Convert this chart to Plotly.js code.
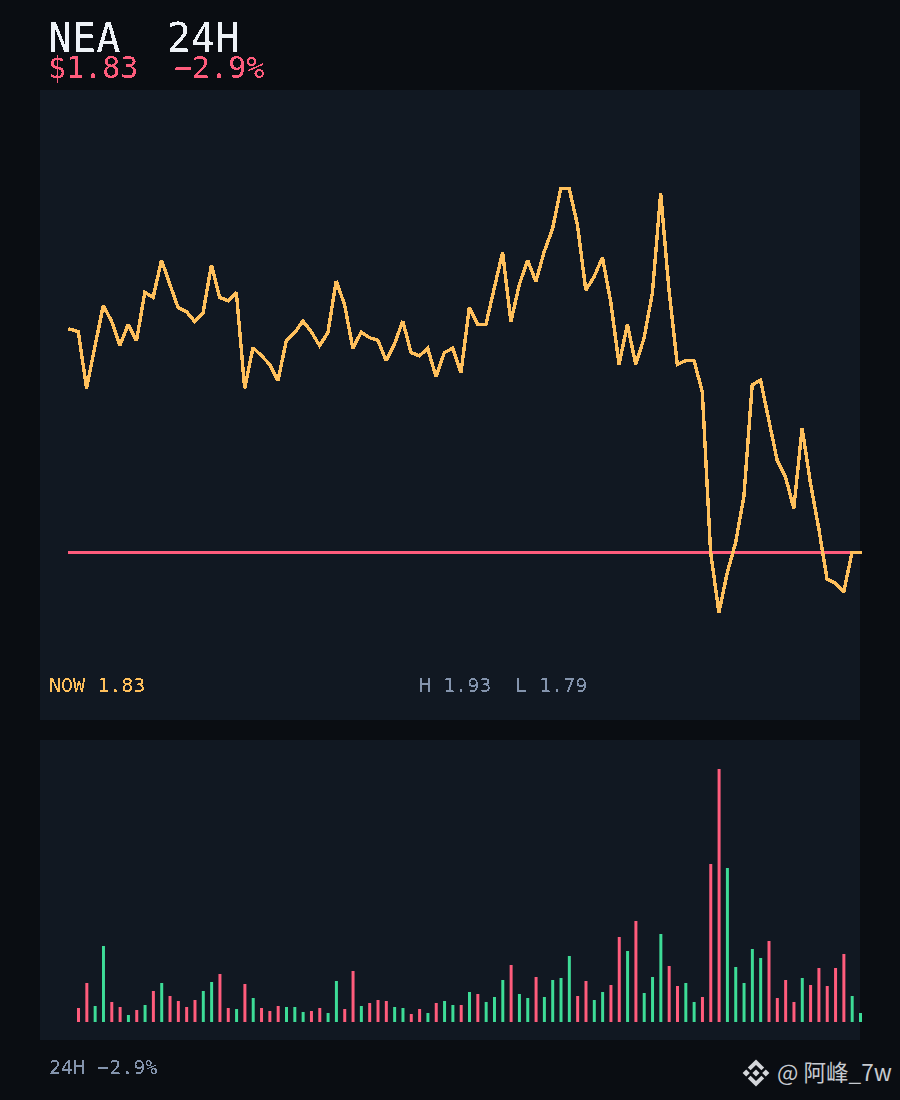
<!DOCTYPE html>
<html>
<head>
<meta charset="utf-8">
<script src="https://cdn.plot.ly/plotly-3.0.1.min.js"></script>
<style>
html,body{margin:0;padding:0;background:#0a0d12;width:900px;height:1100px;overflow:hidden}
.js-line{shape-rendering:crispEdges;stroke-linecap:square}
</style>
</head>
<body>
<svg width="0" height="0" style="position:absolute"><filter id="crisp" x="-5%" y="-20%" width="110%" height="140%" color-interpolation-filters="sRGB"><feComponentTransfer><feFuncA type="discrete" tableValues="0 1"/></feComponentTransfer></filter></svg>
<div id="chart"></div>
<script>
const priceValues = [
1.8835,1.8827,1.8640,1.8777,1.8913,1.8862,1.8781,1.8851,1.8797,1.8957,
1.8940,1.9063,1.8984,1.8906,1.8893,1.8860,1.8889,1.9047,1.8940,1.8929,
1.8957,1.8640,1.8774,1.8748,1.8719,1.8665,1.8797,1.8823,1.8862,1.8827,
1.8781,1.8823,1.8994,1.8917,1.8772,1.8825,1.8807,1.8799,1.8731,1.8786,
1.8862,1.8758,1.8747,1.8772,1.8678,1.8758,1.8772,1.8692,1.8906,1.8851,
1.8851,1.8970,1.9089,1.8860,1.8981,1.9063,1.8992,1.9091,1.9166,1.9300,
1.9300,1.9179,1.8964,1.9008,1.9072,1.8925,1.8719,1.8851,1.8719,1.8805,
1.8954,1.9284,1.8964,1.8719,1.8731,1.8732,1.8629,1.8100,1.7900,1.8031,
1.8130,1.8282,1.8651,1.8667,1.8535,1.8403,1.8348,1.8244,1.8508,1.8328,
1.8178,1.8010,1.7997,1.7967,1.8099,1.8099];
const referencePrice = 1.8099;

// volume per period, starting at the second price sample
const volumeValues = [
14,39,16,76,20,15,7,12,17,31,
39,26,21,15,22,31,40,48,14,13,
38,24,14,11,16,15,15,10,11,14,
9,41,13,51,16,19,22,21,15,14,
8,13,9,19,21,17,17,30,28,20,
25,42,57,28,24,45,25,42,44,66,
26,41,22,30,37,85,71,101,29,45,
88,56,36,39,20,25,158,253,154,55,
39,73,64,81,24,42,20,44,37,54,
36,54,68,26,9];
const volumeDirection = [
'd','d','u','u','d','d','u','d','u','d',
'u','d','d','d','d','u','u','d','d','u',
'd','u','d','d','d','u','u','u','d','d',
'u','u','d','d','u','d','d','d','u','u',
'd','d','u','d','u','u','d','u','d','u',
'u','u','d','u','u','d','u','u','u','u',
'd','d','u','u','d','d','u','d','u','u',
'u','d','d','u','u','d','d','d','u','u',
'u','u','u','d','d','d','d','u','d','d',
'd','d','d','u','u'];

const AMBER='#ffc05c', RED='#ff5c7c', GREEN='#3ddc97', GREY='#8494ad', WHITE='#eef2f7';
const BG='#0a0d12', PANEL='#111822';

const W=900,H=1100;
const px=x=>x/W, py=y=>1-y/H;
const priceX=priceValues.map((_,i)=>i);
const volumeX=volumeValues.map((_,i)=>i+1);

function label(text,x,y,size,color){
  return {text:text,xref:'paper',yref:'paper',x:px(x),y:py(y),xanchor:'left',yanchor:'middle',
    showarrow:false,borderpad:0,borderwidth:0,
    font:{family:'"DejaVu Sans Mono",monospace',size:size,color:color}};
}
const annotations=[
  label('NEA',48,38,40,WHITE),
  label('24H',167,38,40,WHITE),
  label('$1.83',48,68,30,RED),
  label('−2.9%',174,68,30,RED),
  label('NOW 1.83',49,685,20,AMBER),
  label('H 1.93',419,685,20,GREY),
  label('L 1.79',515,685,20,GREY),
  label('24H −2.9%',49,1067,20,GREY),
  {text:'@ 阿峰_7w',xref:'paper',yref:'paper',x:px(775),y:py(1071.5),xanchor:'left',yanchor:'middle',showarrow:false,
   font:{family:'"Noto Sans CJK SC","Noto Sans",sans-serif',size:22.6,color:'#c6cad0'}}
];
function poly(cx,cy,pts){
  return pts.map((p,i)=>(i?'L':'M')+px(cx+p[0]).toFixed(5)+','+py(cy+p[1]).toFixed(5)).join(' ')+' Z';
}
const lx=756,ly=1073;
const logoPath=[
  poly(lx,ly,[[0,-3.6],[3.6,0],[0,3.6],[-3.6,0]]),
  poly(lx,ly,[[-9.8,-3.6],[-6.2,0],[-9.8,3.6],[-13.4,0]]),
  poly(lx,ly,[[9.8,-3.6],[13.4,0],[9.8,3.6],[6.2,0]]),
  poly(lx,ly,[[0,-13.6],[8.2,-5.4],[5.4,-2.8],[0,-8],[-5.4,-2.8],[-8.2,-5.4]]),
  poly(lx,ly,[[0,13.6],[8.2,5.4],[5.4,2.8],[0,8],[-5.4,2.8],[-8.2,5.4]])
].join(' ');

const traces=[
  {type:'scatter',mode:'lines',x:[0,priceX.length-1],y:[referencePrice,referencePrice],xaxis:'x',yaxis:'y',
   line:{color:RED,width:3},hoverinfo:'skip'},
  {type:'scatter',mode:'lines',x:priceX,y:priceValues,xaxis:'x',yaxis:'y',
   line:{color:AMBER,width:3.4,shape:'linear',simplify:false},hoverinfo:'skip'},
  {type:'bar',x:volumeX,y:volumeValues,xaxis:'x2',yaxis:'y2',width:0.36,
   marker:{color:volumeDirection.map(d=>d==='u'?GREEN:RED),line:{width:0}},hoverinfo:'skip'}
];
const hidden={visible:false,fixedrange:true,showgrid:false,zeroline:false};
// subplots run a little past the panels so the last marks may overhang them, as in the reference
const layout={
  width:W,height:H,margin:{l:0,r:0,t:0,b:0,pad:0},
  paper_bgcolor:BG,plot_bgcolor:'rgba(0,0,0,0)',showlegend:false,
  xaxis:Object.assign({},hidden,{domain:[px(40),px(870)],range:[-3.6,96.16],anchor:'y'}),
  yaxis:Object.assign({},hidden,{domain:[py(720),py(90)],range:[1.75454,1.96244],anchor:'x'}),
  xaxis2:Object.assign({},hidden,{domain:[px(40),px(870)],range:[-3.63,96.14],anchor:'y2'}),
  yaxis2:Object.assign({},hidden,{domain:[py(1040),py(740)],range:[-18,282],anchor:'x2'}),
  annotations:annotations,
  shapes:[
   {type:'rect',xref:'paper',yref:'paper',x0:px(40),x1:px(860),y0:py(720),y1:py(90),fillcolor:PANEL,line:{width:0},layer:'below'},
   {type:'rect',xref:'paper',yref:'paper',x0:px(40),x1:px(860),y0:py(1040),y1:py(740),fillcolor:PANEL,line:{width:0},layer:'below'},
   {type:'path',xref:'paper',yref:'paper',path:logoPath,fillcolor:'#d4d6da',line:{width:0},layer:'above'}]
};
Plotly.newPlot('chart',traces,layout,{displayModeBar:false,staticPlot:true}).then(()=>{
  document.querySelectorAll('.annotation-text').forEach((t,i)=>{ if(i<8) t.style.filter='url(#crisp)'; });
});
</script>
</body>
</html>
